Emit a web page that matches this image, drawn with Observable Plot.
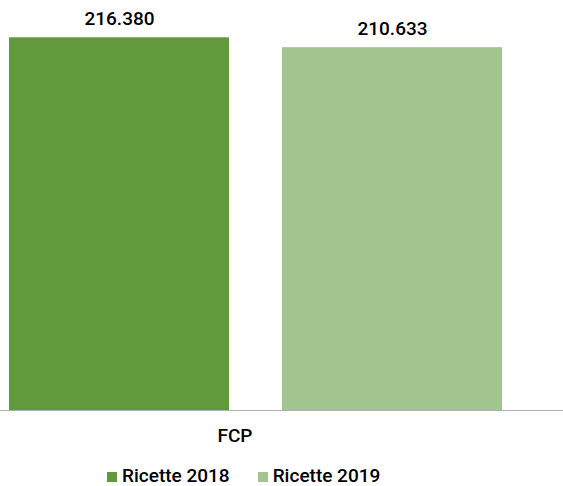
<!DOCTYPE html>
<html><head><meta charset="utf-8">
<script src="https://cdn.jsdelivr.net/npm/d3@7"></script>
<script src="https://cdn.jsdelivr.net/npm/@observablehq/plot@0.6"></script>
<style>
html,body{margin:0;padding:0;background:#fff;font-family:Roboto,"Noto Sans",sans-serif;}
#wrap{position:relative;width:563px;height:486px;}
#chart{position:absolute;left:0;top:0;line-height:0;}
#cat{position:absolute;left:0;width:470px;top:424px;text-align:center;font-size:19px;font-weight:500;color:#000;line-height:24px;}
#legend{position:absolute;left:107px;top:467px;display:flex;font-size:19px;font-weight:500;color:#000;line-height:18px;white-space:nowrap;}
.item{display:flex;align-items:flex-start;margin-right:28px;}
.sw{width:10px;height:10px;margin-top:5px;margin-right:5px;flex:none;}
</style>
</head><body>
<div id="wrap"><div id="chart"></div><div id="cat"></div><div id="legend"></div></div>
<script>
const categories = ["FCP"];
const series = ["Ricette 2018", "Ricette 2019"];
const values = [216380, 210633];
const valueLabels = ["216.380", "210.633"];
const colors = ["#63993D", "#A2C590"];

const data = series.map((s, i) => ({series: s, value: values[i], label: valueLabels[i], category: categories[0]}));

const plot = Plot.plot({
  width: 563,
  height: 412,
  marginTop: 0,
  marginBottom: 2,
  marginLeft: 0,
  marginRight: 0,
  style: {fontFamily: "Roboto, sans-serif", background: "#fff"},
  x: {domain: series, range: [8, 502], paddingInner: 0.195, paddingOuter: 0, axis: null},
  y: {domain: [0, 238030], axis: null},
  color: {domain: series, range: colors},
  marks: [
    Plot.barY(data, {x: "series", y: "value", fill: "series"}),
    Plot.ruleY([0], {stroke: "#b0b0b0", strokeWidth: 1}),
    Plot.text(data, {x: "series", y: "value", text: "label", dy: -19, fontSize: 19, fontWeight: 500, fill: "#000"})
  ]
});
document.getElementById("chart").appendChild(plot);
document.getElementById("cat").textContent = categories[0];
const leg = document.getElementById("legend");
series.forEach((s, i) => {
  const item = document.createElement("div");
  item.className = "item";
  const sw = document.createElement("div");
  sw.className = "sw";
  sw.style.background = colors[i];
  const t = document.createElement("span");
  t.textContent = s;
  item.appendChild(sw); item.appendChild(t);
  leg.appendChild(item);
});
</script>
</body></html>
